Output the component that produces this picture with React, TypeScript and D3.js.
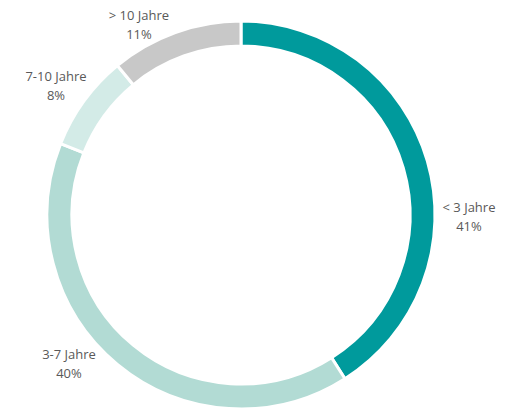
import React from "react";
import * as d3 from "d3";

const categories = ["< 3 Jahre", "3-7 Jahre", "7-10 Jahre", "> 10 Jahre"];
const values = [41, 40, 8, 11];
const colors = ["#009a9c", "#b2dbd4", "#d3ebe7", "#c8c8c8"];
const labelPos = [
  [469, 212],
  [69, 359],
  [56, 81],
  [139, 20],
];

export default function App() {
  const W = 505, H = 408;
  const cx = 241, cy = 215;
  const outer = 194, inner = 169;
  const pie = d3.pie<number>().sort(null).value((d) => d);
  const arcs = pie(values);
  const arc = d3.arc<d3.PieArcDatum<number>>().innerRadius(inner).outerRadius(outer);
  return (
    <svg width={W} height={H} style={{ position: "absolute", left: 0, top: 0 }}>
      <rect width={W} height={H} fill="#fff" />
      <g transform={`translate(${cx},${cy})`}>
        {arcs.map((a, i) => (
          <path key={i} d={arc(a) || ""} fill={colors[i]} stroke="#fff" strokeWidth={3} />
        ))}
      </g>
      {categories.map((c, i) => (
        <text key={c} x={labelPos[i][0]} y={labelPos[i][1]} textAnchor="middle" fontFamily="'Open Sans', sans-serif" fontSize={13} fill="#595959">
          <tspan x={labelPos[i][0]} dy={0}>{c}</tspan>
          <tspan x={labelPos[i][0]} dy={19}>{values[i]}%</tspan>
        </text>
      ))}
    </svg>
  );
}
